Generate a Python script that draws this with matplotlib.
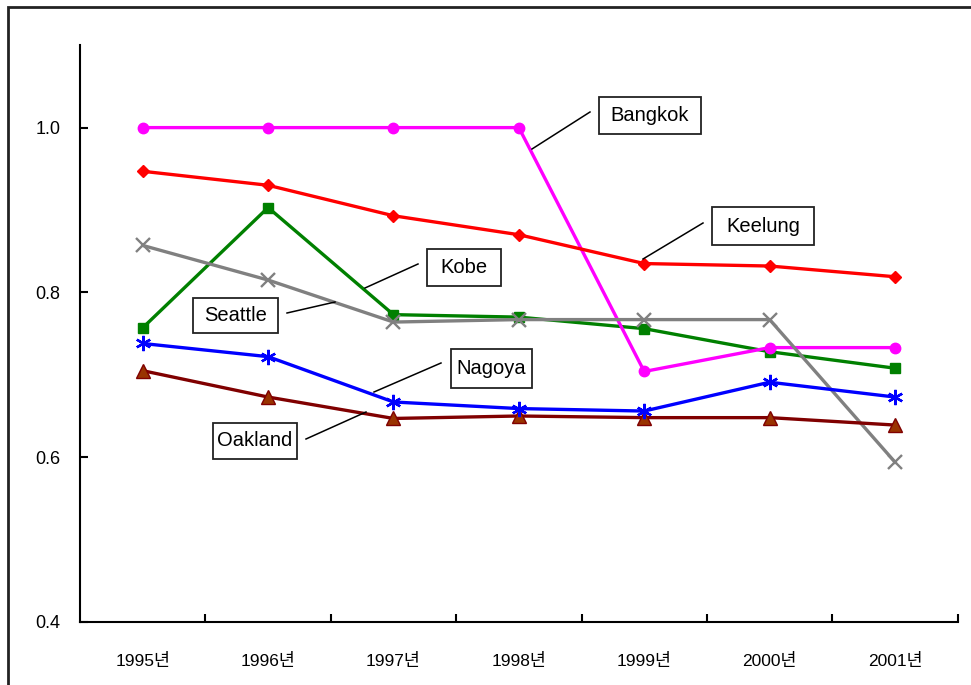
import matplotlib.pyplot as plt
from matplotlib.patches import Rectangle

plt.rcParams['font.family'] = ['Liberation Sans', 'Noto Sans CJK KR']

years = ['1995년', '1996년', '1997년', '1998년', '1999년', '2000년', '2001년']

bangkok = [1.000, 1.000, 1.000, 1.000, 0.704, 0.733, 0.733]
keelung = [0.947, 0.930, 0.893, 0.870, 0.835, 0.832, 0.819]
kobe = [0.757, 0.903, 0.773, 0.770, 0.756, 0.728, 0.708]
seattle = [0.857, 0.815, 0.764, 0.767, 0.767, 0.767, 0.594]
nagoya = [0.738, 0.722, 0.667, 0.659, 0.656, 0.691, 0.673]
oakland = [0.705, 0.673, 0.647, 0.650, 0.648, 0.648, 0.639]

x = list(range(len(years)))

fig = plt.figure(figsize=(9.71, 6.85), dpi=100)
ax = fig.add_axes([0.0824, 0.092, 0.9039, 0.842])

lw = 2.4
ax.plot(x, kobe, color='#008000', lw=lw, marker='s', ms=7, mec='#008000', mfc='#008000')
ax.plot(x, bangkok, color='#FF00FF', lw=lw, marker='o', ms=7.5, mec='#FF00FF', mfc='#FF00FF')
ax.plot(x, keelung, color='#FF0000', lw=lw, marker='D', ms=6, mec='#FF0000', mfc='#FF0000')
ax.plot(x, seattle, color='#808080', lw=lw, marker='x', ms=9.5, mew=1.7, mec='#808080')
ax.plot(x, oakland, color='#800000', lw=lw, marker='^', ms=10, mec='#800000', mfc='#993300')
ax.plot(x, nagoya, color='#0000FF', lw=lw, marker=(6, 2, 0), ms=11, mew=1.7, mec='#0000FF')

ax.set_xlim(-0.5, 6.5)
ax.set_ylim(0.4, 1.1)
ax.set_yticks([0.4, 0.6, 0.8, 1.0])
ax.set_yticklabels(['0.4', '0.6', '0.8', '1.0'], fontsize=13)
ax.tick_params(axis='y', direction='in', length=6, width=1.5, pad=14)

# category boundaries carry the ticks, names sit in between
ax.set_xticks([i + 0.5 for i in x])
ax.set_xticklabels([])
ax.set_xticks(x, minor=True)
ax.set_xticklabels(years, minor=True, fontsize=12.5)
ax.tick_params(axis='x', which='major', direction='in', length=6, width=1.5)
ax.tick_params(axis='x', which='minor', length=0, pad=22)

for side in ['top', 'right']:
    ax.spines[side].set_visible(False)
for side in ['left', 'bottom']:
    ax.spines[side].set_linewidth(1.5)

# city labels with leader lines (figure pixel coordinates from top-left)
W, H = 971, 685
labels = [
    ('Bangkok', (599, 97, 701, 134), (532, 149), (590, 112)),
    ('Keelung', (712, 207, 814, 245), (643, 259), (703, 223)),
    ('Kobe', (427, 249, 501, 286), (365, 288), (418, 264)),
    ('Seattle', (193, 298, 278, 333), (287, 313), (335, 302)),
    ('Nagoya', (451, 349, 532, 388), (374, 392), (441, 363)),
    ('Oakland', (213, 423, 297, 459), (306, 439), (366, 412)),
]
for name, (x0, y0, x1, y1), p0, p1 in labels:
    fig.patches.append(Rectangle((x0 / W, 1 - y1 / H), (x1 - x0) / W, (y1 - y0) / H,
                                 transform=fig.transFigure, fill=True, facecolor='white',
                                 edgecolor='#222222', lw=1.3, zorder=5))
    fig.text((x0 + x1) / 2 / W, 1 - (y0 + y1) / 2 / H, name, ha='center', va='center',
             fontsize=14.5, zorder=6)
    fig.lines.append(plt.Line2D([p0[0] / W, p1[0] / W], [1 - p0[1] / H, 1 - p1[1] / H],
                                transform=fig.transFigure, color='black', lw=1.1, zorder=5))

# outer frame
fig.patches.append(Rectangle((8 / W, -0.05), 1.0, 1 - 7 / H + 0.05, transform=fig.transFigure,
                             fill=False, edgecolor='#222222', lw=2.0))

fig.savefig('out.png', dpi=100)
